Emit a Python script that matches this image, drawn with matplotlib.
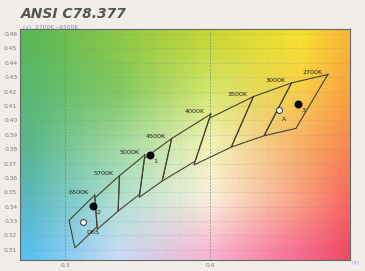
import numpy as np
import matplotlib
matplotlib.use("Agg")
import matplotlib.pyplot as plt
from matplotlib.colors import to_rgb

# ANSI C78.377 quadrangles (x, y corners)
cct_names = ["2700K", "3000K", "3500K", "4000K", "4500K", "5000K", "5700K", "6500K"]
quad_x = [
    [0.4813, 0.4562, 0.4373, 0.4593],
    [0.4562, 0.4299, 0.4147, 0.4373],
    [0.4299, 0.3996, 0.3889, 0.4147],
    [0.4006, 0.3736, 0.3670, 0.3898],
    [0.3736, 0.3548, 0.3512, 0.3670],
    [0.3551, 0.3376, 0.3366, 0.3515],
    [0.3376, 0.3207, 0.3222, 0.3366],
    [0.3205, 0.3028, 0.3068, 0.3221],
]
quad_y = [
    [0.4319, 0.4260, 0.3893, 0.3944],
    [0.4260, 0.4165, 0.3814, 0.3893],
    [0.4165, 0.4015, 0.3690, 0.3814],
    [0.4044, 0.3874, 0.3578, 0.3716],
    [0.3874, 0.3736, 0.3465, 0.3578],
    [0.3760, 0.3616, 0.3369, 0.3487],
    [0.3616, 0.3462, 0.3243, 0.3369],
    [0.3481, 0.3304, 0.3113, 0.3261],
]

# measured points
pt_labels = ["1", "2", "3"]
pt_x = [0.3586, 0.3193, 0.4607]
pt_y = [0.3760, 0.3406, 0.4114]

# reference illuminants
ref_labels = ["D65", "A"]
ref_x = [0.3127, 0.4476]
ref_y = [0.3290, 0.4074]

# background colour samples
bg_x = [0.2745, 0.3366, 0.4007, 0.4628, 0.493]
bg_y = [0.3072, 0.345, 0.3836, 0.423, 0.456]
bg_colors = [
    ["#58c0f0", "#c8dcf6", "#f8b4d0", "#f86a90", "#f04c66"],
    ["#58b8c0", "#b0e0d0", "#faf0dc", "#f8a080", "#f86c64"],
    ["#58b88c", "#a0d8a0", "#f4f4b8", "#f8b068", "#f88c50"],
    ["#58b870", "#80c860", "#d4e668", "#f8d048", "#f8a840"],
    ["#58b858", "#8cc848", "#c8d838", "#f8e030", "#f8b838"],
]

xlim = (0.269, 0.4966)
ylim = (0.303, 0.4635)

fig = plt.figure(figsize=(3.65, 2.71), dpi=100)
fig.patch.set_facecolor("#f1eee9")
ax = fig.add_axes([0.055, 0.041, 0.904, 0.852])

# background gradient
gx = np.linspace(xlim[0], xlim[1], 330)
gy = np.linspace(ylim[0], ylim[1], 230)
anchors = np.array([[to_rgb(c) for c in row] for row in bg_colors])
rows = np.stack([np.stack([np.interp(gx, bg_x, anchors[j, :, k]) for k in range(3)], -1)
                 for j in range(len(bg_y))])
img = np.stack([np.stack([np.interp(gy, bg_y, rows[:, i, k]) for k in range(3)], -1)
                for i in range(len(gx))], axis=1)
ax.imshow(img, origin="lower", extent=[xlim[0], xlim[1], ylim[0], ylim[1]],
          aspect="auto", interpolation="bilinear", zorder=0)

ax.set_xlim(xlim)
ax.set_ylim(ylim)

# grid
for v in np.arange(0.31, 0.465, 0.01):
    ax.axhline(v, color="#777777", lw=0.4, ls=(0, (1, 2)), alpha=0.6, zorder=1)
for v in np.arange(0.27, 0.50, 0.01):
    ax.axvline(v, color="#888888", lw=0.3, ls=(0, (1, 2)), alpha=0.35, zorder=1)
for v in [0.3, 0.4]:
    ax.axvline(v, color="#777777", lw=0.6, ls=(0, (2, 2)), alpha=0.8, zorder=1)

# quadrangles
for name, qx, qy in zip(cct_names, quad_x, quad_y):
    ax.plot(qx + qx[:1], qy + qy[:1], color="#45432f", lw=0.8, zorder=3)
    ax.annotate(name, (qx[0], qy[0]), xytext=(-4, 1.5), textcoords="offset points",
                ha="right", va="center", fontsize=4.6, color="#222222", zorder=4)

ax.scatter(pt_x, pt_y, s=22, color="black", zorder=5)
for lab, px, py in zip(pt_labels, pt_x, pt_y):
    ax.annotate(lab, (px, py), xytext=(2.5, -5), textcoords="offset points",
                ha="left", va="center", fontsize=4.6, color="#222222", zorder=5)

ax.scatter(ref_x, ref_y, s=18, facecolor="white", edgecolor="#333333", lw=0.7, zorder=5)
for lab, px, py in zip(ref_labels, ref_x, ref_y):
    ax.annotate(lab, (px, py), xytext=(2, -7), textcoords="offset points",
                ha="left", va="center", fontsize=4.6, color="#222222", zorder=5)

ax.set_xticks([0.3, 0.4])
ax.set_xticklabels(["0.3", "0.4"])
yt = np.round(np.arange(0.31, 0.465, 0.01), 2)
ax.set_yticks(yt)
ax.set_yticklabels(["%.2f" % v for v in yt])
ax.tick_params(length=0, labelsize=4.3, labelcolor="#777777", pad=2)
for s in ax.spines.values():
    s.set_color("#666666")
    s.set_linewidth(0.8)

fig.text(0.058, 0.948, "ANSI C78.377", fontsize=10, fontweight="bold", style="italic",
         color="#555555", ha="left", va="center")
fig.text(0.062, 0.9, "(y)  2700K~6500K", fontsize=4.3, color="#8080c0", ha="left", va="center")
fig.text(0.975, 0.03, "(x)", fontsize=4.3, color="#9aa0c8", ha="center", va="center")

fig.savefig("out.png", dpi=100, facecolor=fig.get_facecolor())
